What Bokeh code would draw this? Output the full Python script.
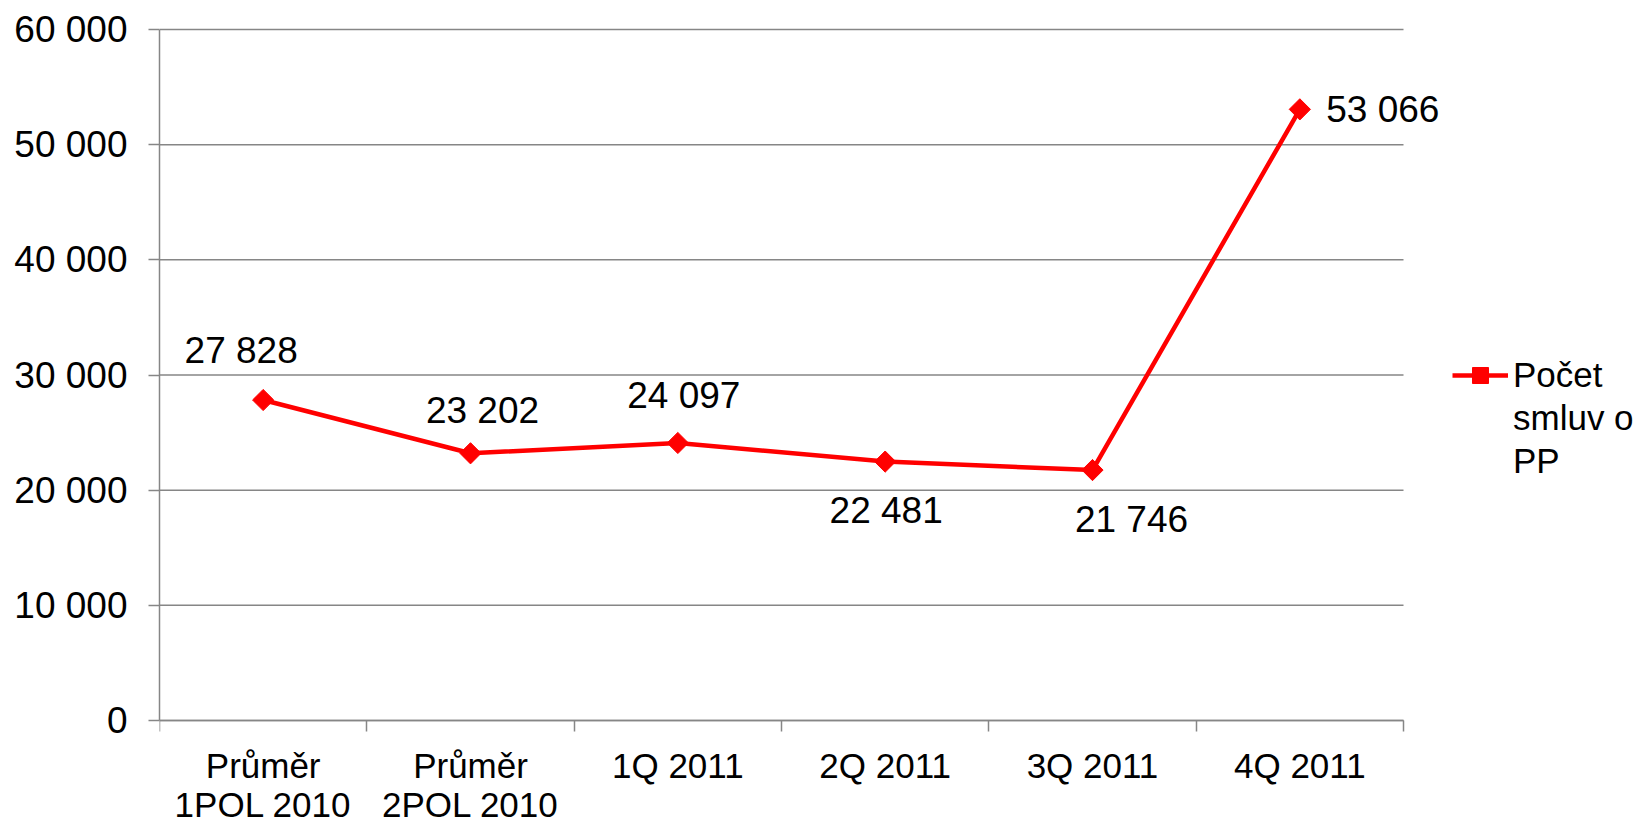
import math
from bokeh.plotting import figure
from bokeh.models import (FixedTicker, Legend, LegendItem, ColumnDataSource,
                          LabelSet, Range1d)
from bokeh.core.properties import value
from bokeh.embed import file_html
from bokeh.resources import INLINE

# ---- data ----
categories = ["Průměr\n1POL 2010", "Průměr\n2POL 2010", "1Q 2011",
              "2Q 2011", "3Q 2011", "4Q 2011"]
values = [27828, 23202, 24097, 22481, 21746, 53066]
y_ticks = [0, 10000, 20000, 30000, 40000, 50000, 60000]
series_name_lines = ["Počet", "smluv o", "PP"]

# ---- label placement (styling, screen px) ----
label_dx = [-22, 12, 6, 1, 39, 83]
label_dy = [50, 43, 47, -49, -49, 0]

# ---- layout (screen px) ----
W, H = 1642, 824
LEFT = 159
GRID_TOP, GRID_BOTTOM = 29, 720   # screen y of the top / bottom gridline
PLOT_W = 1244                     # width used by the categories


def fmt(v):
    return f"{v:,}".replace(",", " ")


FONT = "Liberation Sans"
GRID = "#868686"
RED = "#FF0000"

n = len(categories)
y_max = y_ticks[-1]
k = (GRID_BOTTOM - GRID_TOP) / y_max          # px per unit
x_end = n * (W - LEFT) / PLOT_W
y_start = -(H - GRID_BOTTOM) / k
y_end = y_max + GRID_TOP / k

xs = [i + 0.5 for i in range(n)]
src = ColumnDataSource(dict(x=xs, y=values, txt=[fmt(v) for v in values],
                            dx=label_dx, dy=label_dy))
grid_src = ColumnDataSource(dict(x0=[0] * len(y_ticks), x1=[n] * len(y_ticks),
                                 y=y_ticks))

p = figure(width=W, height=H, output_backend="svg", toolbar_location=None,
           x_range=Range1d(0, x_end), y_range=Range1d(y_start, y_end),
           min_border_left=LEFT, min_border_top=0, min_border_right=0,
           min_border_bottom=0)
p.outline_line_color = None
p.background_fill_color = "white"
p.border_fill_color = "white"

# gridlines (only across the category area)
p.xgrid.grid_line_color = None
p.ygrid.grid_line_color = None
p.segment(x0="x0", x1="x1", y0="y", y1="y", source=grid_src,
          line_color=GRID, line_width=1.5)

# x axis, drawn at y = 0
xa = p.xaxis[0]
xa.fixed_location = 0
xa.bounds = (0, n)
xa.ticker = FixedTicker(ticks=xs, minor_ticks=list(range(n + 1)))
xa.major_label_overrides = {x: c for x, c in zip(xs, categories)}
xa.major_tick_out = 0
xa.major_tick_in = 0
xa.minor_tick_out = 11
xa.minor_tick_in = 0
xa.minor_tick_line_color = GRID
xa.minor_tick_line_width = 1.5
xa.axis_line_color = GRID
xa.axis_line_width = 1.5
xa.major_label_text_font = FONT
xa.major_label_text_font_size = "35px"
xa.major_label_text_color = "black"
xa.major_label_standoff = 14
xa.major_label_text_line_height = 1.0

# y axis
ya = p.yaxis[0]
ya.bounds = (0, y_max)
ya.ticker = FixedTicker(ticks=y_ticks)
ya.major_label_overrides = {t: fmt(t) for t in y_ticks}
ya.major_tick_out = 11
ya.major_tick_in = 0
ya.minor_tick_line_color = None
ya.major_tick_line_color = GRID
ya.major_tick_line_width = 1.5
ya.axis_line_color = GRID
ya.axis_line_width = 1.5
ya.major_label_text_font = FONT
ya.major_label_text_font_size = "37px"
ya.major_label_text_color = "black"
ya.major_label_standoff = 21

# series
ln = p.line("x", "y", source=src, line_color=RED, line_width=4.5)
mk = p.scatter("x", "y", source=src, marker="square", angle=math.pi / 4,
               size=15, fill_color=RED, line_color=RED)

labels = LabelSet(x="x", y="y", text="txt", source=src, x_offset="dx",
                  y_offset="dy", text_align="center", text_baseline="middle",
                  text_font=value(FONT), text_font_size=value("37px"),
                  text_color="black")
p.add_layout(labels)

# legend: series name wrapped over three lines, marker on the first one
blank = p.line(x=[], y=[], line_alpha=0)
items = [LegendItem(label=series_name_lines[0], renderers=[ln, mk])]
items += [LegendItem(label=t, renderers=[blank]) for t in series_name_lines[1:]]
legend = Legend(items=items, location=(1293, 343), orientation="vertical",
                border_line_alpha=0, background_fill_alpha=0,
                label_text_font=FONT, label_text_font_size="35px",
                label_text_color="black",
                glyph_width=56, glyph_height=40, label_height=40,
                label_standoff=5, spacing=3, padding=0, margin=0)
p.add_layout(legend)

open("out.html", "w").write(file_html(p, INLINE))
